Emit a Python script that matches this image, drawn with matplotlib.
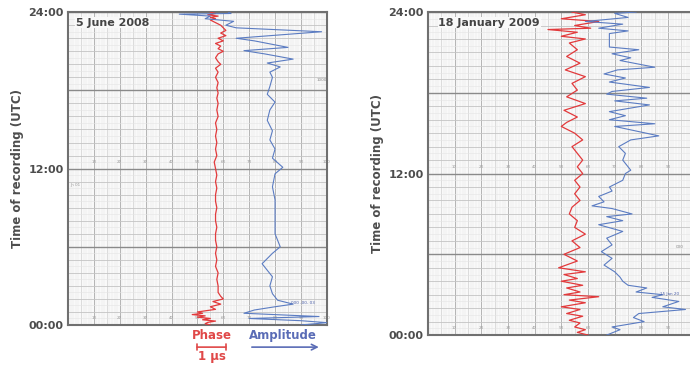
import matplotlib
matplotlib.use('Agg')
import matplotlib.pyplot as plt

# chart-paper units 0..100 across, hours 0..24 up
# 5 June 2008 -- phase trace (hour, value)
june_phase_t = [24.0, 23.9, 23.8, 23.7, 23.6, 23.5, 23.4, 23.3, 23.1, 23.0, 22.8, 22.6, 22.4, 22.2,
                22.0, 21.8, 21.6, 21.4, 21.2, 21.0, 20.8, 20.5, 20.2, 20.0, 19.7, 19.4, 19.0, 18.6,
                18.2, 17.8, 17.4, 17.0, 16.5, 16.0, 15.5, 15.0, 14.5, 14.0, 13.5, 13.0, 12.5, 12.0,
                11.5, 11.0, 10.5, 10.0, 9.5, 9.0, 8.5, 8.0, 7.5, 7.0, 6.5, 6.0, 5.5, 5.0, 4.5, 4.0,
                3.5, 3.0, 2.5, 2.2, 2.0, 1.8, 1.6, 1.4, 1.2, 1.0, 0.9, 0.8, 0.7, 0.6, 0.5, 0.4, 0.3,
                0.2, 0.1, 0.0]
june_phase_v = [55, 57, 54, 58, 55, 57, 55, 56, 58, 59, 60, 61, 59, 61,
                58, 60, 57, 59, 58, 60, 58, 57, 58, 59, 57, 58, 57, 58,
                57.5, 58, 57.5, 58, 57.5, 58, 57, 57.5, 57, 57.5, 57, 57.5, 56.5, 57,
                57.5, 57, 57.5, 57, 57, 57.5, 57, 57, 57.5, 57, 57, 57.5, 57, 57.5, 57, 58,
                57.5, 58, 58, 59, 60, 56, 59, 55, 57, 50, 52, 48, 53, 50, 55, 52, 57,
                54, 53, 55]

# 5 June 2008 -- amplitude trace
june_amp_t = [24.0, 23.9, 23.85, 23.7, 23.5, 23.3, 23.0, 22.8, 22.5, 22.35, 22.0, 21.8, 21.3,
              21.05, 20.8, 20.4, 20.1, 19.8, 19.4, 19.0, 18.3, 17.7, 17.1, 16.5, 15.7, 14.9,
              14.2, 13.5, 12.8, 12.1, 11.6, 10.6, 9.6, 8.3, 7.0, 6.0, 5.5, 4.7, 4.2, 3.7, 3.0,
              2.4, 1.9, 1.6, 1.4, 1.15, 0.9, 0.65, 0.5, 0.33, 0.18, 0.0]
june_amp_v = [62, 63, 43, 55, 53, 64, 61, 65, 98, 88, 65, 72, 85,
              68, 76, 87, 77, 82, 78, 79, 78, 77, 80, 78, 77, 79,
              78, 80, 79, 83, 80, 79, 80, 80, 80, 82, 79, 75, 77, 79, 78,
              79, 81, 87, 80, 72, 68, 97, 70, 90, 100, 90]

# 18 January 2009 -- phase trace
jan_phase_t = [24.0, 23.8, 23.5, 23.3, 23.0, 22.8, 22.7, 22.5, 22.2, 22.0, 21.7, 21.2, 20.7,
               20.2, 19.7, 19.2, 18.7, 18.2, 17.7, 17.2, 16.7, 16.2, 15.8, 15.5, 15.0, 14.5,
               14.0, 13.5, 13.0, 12.5, 12.0, 11.5, 11.0, 10.5, 10.0, 9.5, 9.0, 8.5, 8.0, 7.5,
               7.0, 6.5, 6.0, 5.5, 5.0, 4.7, 4.5, 4.2, 4.0, 3.7, 3.5, 3.2, 3.0, 2.85, 2.6,
               2.4, 2.1, 1.9, 1.6, 1.4, 1.1, 0.9, 0.6, 0.4, 0.2, 0.0]
jan_phase_v = [54, 59, 50, 64, 55, 61, 45, 56, 50, 59, 53, 56, 52,
               57, 51.5, 59, 54, 56, 52, 59, 51, 56, 52, 50, 55, 58,
               54, 56, 58, 56, 58, 55, 57, 55, 57, 54, 53, 56, 55, 59,
               54, 57, 51, 56, 49, 59, 51, 56, 50, 58, 52, 57, 51, 64, 53,
               59, 50, 57, 52, 58, 53, 57, 55, 59, 56, 60]

# 18 January 2009 -- amplitude trace
jan_amp_t = [24.0, 23.9, 23.6, 23.3, 23.1, 22.8, 22.6, 22.4, 21.4, 21.2, 20.9, 20.6, 20.4,
             19.9, 19.7, 19.4, 19.1, 18.8, 18.4, 18.1, 17.9, 17.6, 17.4, 17.1, 16.6, 16.3,
             16.0, 15.7, 15.5, 14.8, 14.5, 14.0, 13.5, 13.0, 12.5, 12.25, 12.0, 11.5, 11.0,
             10.7, 10.3, 9.9, 9.6, 9.4, 9.0, 8.8, 8.5, 8.2, 7.7, 7.2, 6.7, 6.2, 5.7, 5.2,
             4.7, 4.3, 4.0, 3.7, 3.5, 3.2, 3.0, 2.8, 2.5, 2.1, 1.9, 1.6, 1.3, 1.0, 0.6, 0.4, 0.0]
jan_amp_v = [78, 70, 75, 59, 73, 64, 75, 68, 68, 79, 69, 76, 72,
             85, 71, 66, 74, 68, 83, 69, 67, 82, 70, 83, 68, 74,
             68, 85, 70, 86.5, 76, 71.5, 74, 73, 75, 76, 74, 73, 68,
             69, 64, 66, 61.5, 69, 76.5, 67, 73, 64, 73, 67, 69, 65, 69, 66,
             70, 72, 73, 75, 82, 78, 88, 84, 94, 88, 96.5, 79, 77, 81, 69, 72, 67]

paper_numbers = ['10', '20', '30', '40', '50', '60', '70', '80', '90', '100']
hour_ticks = [0, 12, 24]
hour_labels = ['00:00', '12:00', '24:00']

RED = '#e23a3c'
BLUE = '#5b7cc2'
TXT = '#4d4d4d'


def draw_paper(ax, title, title_x, n_numbers):
    ax.set_facecolor('#f9f9f9')
    ax.set_xlim(0, 100)
    ax.set_ylim(0, 24)
    # fine vertical rulings
    for i in range(101):
        if i % 10 == 0:
            ax.axvline(i, color='#b4b4b4', lw=0.7, zorder=1)
        elif i % 5 == 0:
            ax.axvline(i, color='#d0d0d0', lw=0.5, zorder=1)
        else:
            ax.axvline(i, color='#e6e6e6', lw=0.35, zorder=1)
    # horizontal rulings
    for h in range(49):
        t = h / 2
        if h % 12 == 0:
            ax.axhline(t, color='#8a8a8a', lw=1.0, zorder=1)
        elif h % 2 == 0:
            ax.axhline(t, color='#c4c4c4', lw=0.6, zorder=1)
        else:
            ax.axhline(t, color='#e4e4e4', lw=0.4, zorder=1)
    # printed numbers on the paper
    for k, s in enumerate(paper_numbers[:n_numbers]):
        for row in (12.5, 0.5):
            ax.text((k + 1) * 10, row, s, fontsize=3, color='#9a9a9a',
                    ha='center', va='center', zorder=2)
    ax.set_yticks(hour_ticks)
    ax.set_yticklabels(hour_labels, fontsize=8, fontweight='bold', color=TXT)
    ax.set_xticks([])
    ax.tick_params(axis='y', length=0, pad=3)
    ax.set_ylabel('Time of recording (UTC)', fontsize=8.5, fontweight='bold', color=TXT,
                  labelpad=3)
    for sp in ax.spines.values():
        sp.set_color('#707070')
        sp.set_linewidth(1.5)
    ax.text(title_x, 23.2, title, fontsize=8, fontweight='bold', color='#444444',
            ha='left', va='center', zorder=5,
            bbox=dict(facecolor='#f9f9f9', edgecolor='none', pad=0.5))


fig = plt.figure(figsize=(6.9, 3.65), dpi=100)
fig.patch.set_facecolor('white')

ax1 = fig.add_axes([0.0986, 0.1096, 0.375, 0.857])
draw_paper(ax1, '5 June 2008', 3, 10)
ax1.plot(june_phase_v, june_phase_t, color=RED, lw=0.9, zorder=4)
ax1.plot(june_amp_v, june_amp_t, color=BLUE, lw=0.8, zorder=4)
ax1.text(1, 10.7, 'Jh 01', fontsize=3, color='#999999', zorder=2)
ax1.text(96, 18.7, '1000', fontsize=3, color='#888888', zorder=2)
ax1.text(86, 1.6, '000 -00- 03', fontsize=3, color='#4a5ea8', zorder=5)

ax2 = fig.add_axes([0.62, 0.082, 0.387, 0.885])
draw_paper(ax2, '18 January 2009', 4, 9)
ax2.plot(jan_phase_v, jan_phase_t, color=RED, lw=0.9, zorder=4)
ax2.plot(jan_amp_v, jan_amp_t, color=BLUE, lw=0.8, zorder=4)
ax2.text(87, 3.0, '15 Jan 20', fontsize=3, color='#4a5ea8', zorder=5)
ax2.text(93, 6.5, '000', fontsize=3, color='#888888', zorder=2)

# legend below left panel: phase scale bar and amplitude arrow (figure coords)
fig.text(0.307, 0.082, 'Phase', fontsize=8.5, fontweight='bold', color='#e04848',
         ha='center', va='center')
fig.text(0.307, 0.024, '1 μs', fontsize=8.5, fontweight='bold', color='#e04848',
         ha='center', va='center')
ax1.annotate('', xy=(0.2855, 0.049), xytext=(0.3275, 0.049), xycoords='figure fraction',
             arrowprops=dict(arrowstyle='|-|,widthA=0.2,widthB=0.2', color='#e04848', lw=1.2,
                             shrinkA=0, shrinkB=0))
fig.text(0.41, 0.082, 'Amplitude', fontsize=8.5, fontweight='bold', color='#5a6cb6',
         ha='center', va='center')
ax1.annotate('', xy=(0.462, 0.049), xytext=(0.365, 0.049), xycoords='figure fraction',
             arrowprops=dict(arrowstyle='->', color='#5a6cb6', lw=1.2, shrinkA=0, shrinkB=0))

fig.savefig('out.png', dpi=100)
